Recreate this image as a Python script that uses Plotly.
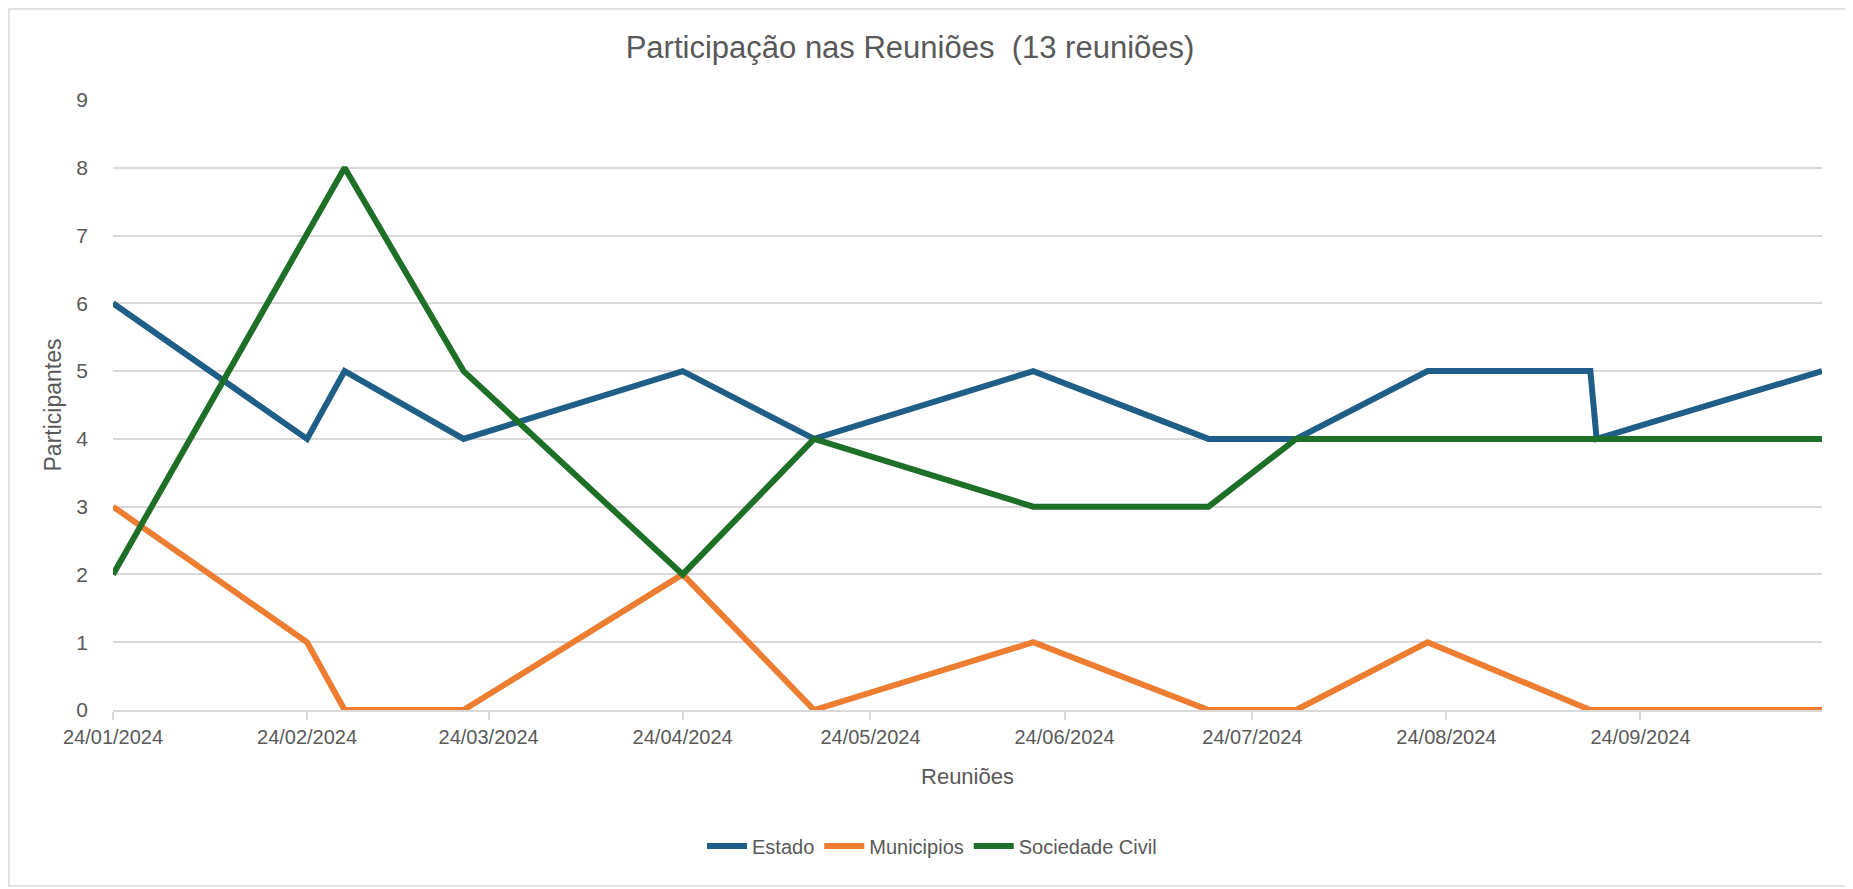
import plotly.graph_objects as go

# Data
datas = ["2024-01-24", "2024-02-24", "2024-03-01", "2024-03-20", "2024-04-24",
         "2024-05-15", "2024-06-19", "2024-07-17", "2024-07-31", "2024-08-21",
         "2024-09-16", "2024-09-17", "2024-10-23"]
estado = [6, 4, 5, 4, 5, 4, 5, 4, 4, 5, 5, 4, 5]
municipios = [3, 1, 0, 0, 2, 0, 1, 0, 0, 1, 0, 0, 0]
sociedade_civil = [2, 7, 8, 5, 2, 4, 3, 3, 4, 4, 4, 4, 4]
y_ticks = list(range(0, 10))

FONT = "Liberation Sans, Arial, sans-serif"
GREY = "#595959"

OFF = 8  # page body margin
W, H = 1853 - OFF, 889 - OFF
# target plot area in screen pixels: x 113..1822, y 100..710
ML = 113 - OFF
MT = 100 - OFF
MR = OFF + W - 1822
MB = OFF + H - 710
PW, PH = W - ML - MR, H - MT - MB

fig = go.Figure()
series = [("Estado", estado, "#1F5E86"),
          ("Municipios", municipios, "#ED7D31"),
          ("Sociedade Civil", sociedade_civil, "#1E6F28")]
for name, vals, col in series:
    fig.add_trace(go.Scatter(x=datas, y=vals, mode="lines", name=name,
                             line=dict(color=col, width=6)))

def sx(px):  # screen x -> paper
    return (px - OFF - ML) / PW

def sy(py):  # screen y -> paper
    return (OFF + H - MB - py) / PH

fig.update_layout(
    width=W, height=H,
    margin=dict(l=ML, r=MR, t=MT, b=MB),
    paper_bgcolor="white", plot_bgcolor="white",
    font=dict(family=FONT, color=GREY, size=20),
    title=dict(text="Participação nas Reuniões  (13 reuniões)",
               x=sx(910), xanchor="center", xref="paper",
               y=1 - (47 - OFF) / H, yanchor="middle",
               font=dict(family=FONT, size=31, color=GREY)),
    xaxis=dict(type="date", range=[datas[0], datas[-1]],
               tick0=datas[0], dtick="M1", tickformat="%d/%m/%Y",
               showgrid=False, showline=True, linecolor="#D9D9D9", linewidth=2,
               ticks="outside", ticklen=8, tickcolor="#D9D9D9", tickwidth=2,
               tickfont=dict(family=FONT, size=20, color=GREY),
               title=dict(text="Reuniões", standoff=22,
                          font=dict(family=FONT, size=22, color=GREY)),
               zeroline=False),
    yaxis=dict(range=[0, 9], tickvals=y_ticks, showgrid=True,
               gridcolor="#D9D9D9", gridwidth=1.5, zeroline=False,
               showline=False, ticks="", ticklabelstandoff=24,
               tickfont=dict(family=FONT, size=21, color=GREY),
               title=dict(text="Participantes", standoff=8,
                          font=dict(family=FONT, size=23, color=GREY))),
    legend=dict(orientation="h", x=sx(932), xanchor="center",
                y=sy(846), yanchor="middle",
                font=dict(family=FONT, size=20, color=GREY),
                itemwidth=40, tracegroupgap=0),
    showlegend=True,
)

# chart-area border
fig.add_shape(type="rect", xref="paper", yref="paper",
              x0=sx(OFF + 1), x1=sx(1847), y0=sy(886), y1=sy(OFF + 1),
              line=dict(color="#D9D9D9", width=1.5), fillcolor="rgba(0,0,0,0)",
              layer="below")

fig.write_html("out.html")
